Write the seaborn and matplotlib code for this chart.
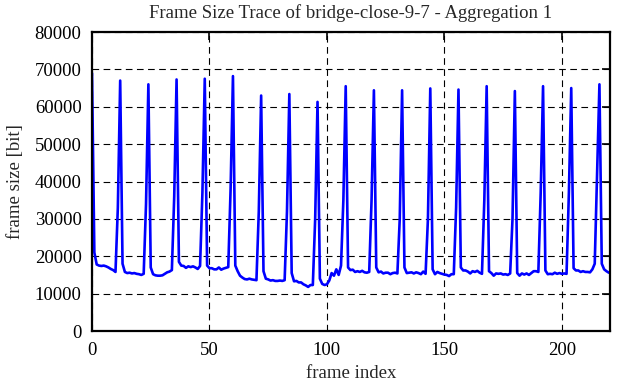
import matplotlib
matplotlib.use("Agg")
import matplotlib.pyplot as plt
import seaborn as sns
import numpy as np
import pandas as pd

title = "Frame Size Trace of bridge-close-9-7 - Aggregation 1"
x_label = "frame index"
y_label = "frame size [bit]"

frame_size = [
    69000, 21000, 17800, 17500, 17400, 17500, 17300, 17000, 16600, 16300,
    15800, 33000, 67000, 18000, 15800, 15500, 15600, 15400, 15500, 15300,
    15200, 15000, 15300, 34000, 66000, 17000, 15200, 14900, 14800, 14800,
    14900, 15300, 15700, 15900, 16300, 36000, 67300, 18500, 17500, 17400,
    16900, 17300, 17100, 17300, 17000, 16600, 17400, 37000, 67500, 17500,
    16800, 16800, 16500, 16500, 17000, 16400, 16700, 16900, 17100, 38000,
    68200, 17500, 16000, 14800, 14300, 13900, 13800, 14000, 13800, 13700,
    13600, 32000, 63000, 16000, 14000, 13800, 13500, 13600, 13400, 13400,
    13500, 13400, 13600, 32000, 63400, 15500, 13300, 13400, 13000, 13000,
    12500, 12200, 11800, 12300, 12300, 30000, 61300, 14000, 12600, 12300,
    12500, 13500, 15500, 14800, 16500, 15000, 17500, 35000, 65500, 17000,
    16300, 16400, 15800, 16000, 15800, 16100, 15700, 15600, 15800, 35000,
    64400, 17000, 15700, 15900, 15400, 15600, 15600, 15200, 15500, 15600,
    15400, 30000, 64400, 17000, 15500, 15600, 15700, 15400, 15700, 15500,
    15200, 15900, 15300, 30000, 64900, 16500, 15200, 15800, 15500, 15300,
    15100, 15000, 14700, 15200, 15200, 33000, 64600, 17000, 16200, 16200,
    15900, 15400, 16000, 15800, 16100, 15600, 15300, 35000, 65500, 16000,
    15500, 14800, 15400, 15300, 15400, 15100, 15200, 15000, 15400, 30000,
    64200, 15500, 14800, 15400, 15100, 15400, 15000, 15500, 16000, 16000,
    15800, 37000, 65500, 16200, 15200, 15300, 15200, 15600, 15300, 15500,
    15300, 15400, 15300, 37000, 65000, 16800, 16200, 16200, 15800, 16000,
    15800, 15800, 15700, 16500, 18000, 42000, 66000, 18000, 16500, 16000,
    15600,
]
frame_index = list(range(len(frame_size)))

x_ticks = [0, 50, 100, 150, 200]
y_ticks = [0, 10000, 20000, 30000, 40000, 50000, 60000, 70000, 80000]

df = pd.DataFrame({"frame": frame_index, "size": frame_size})

sns.set_style("white")
plt.rcParams["font.family"] = ["Liberation Serif", "DejaVu Serif"]

fig = plt.figure(figsize=(6.17, 3.82), dpi=100)
ax = fig.add_axes([92 / 617, 1 - 331 / 382, (610 - 92) / 617, (331 - 32) / 382])

sns.lineplot(data=df, x="frame", y="size", ax=ax, color="#0000ff", linewidth=1.9)

ax.set_xlim(0, 220.5)
ax.set_ylim(0, 80000)
ax.set_xticks(x_ticks)
ax.set_yticks(y_ticks)
ax.set_xticklabels([str(t) for t in x_ticks])
ax.set_yticklabels([str(t) for t in y_ticks])
ax.grid(True, color="black", linestyle=(0, (6, 4)), linewidth=0.8)
ax.set_axisbelow(True)
for s in ax.spines.values():
    s.set_color("black")
    s.set_linewidth(1.6)
    s.set_visible(True)
ax.tick_params(axis="both", direction="in", length=6, width=1.2, colors="black",
               labelsize=13.5, top=True, right=True)
ax.tick_params(axis="x", pad=8)
ax.tick_params(axis="y", pad=7.5)
ax.set_title(title, fontsize=13.5, pad=10)
ax.set_xlabel(x_label, fontsize=13.5, labelpad=4)
ax.set_ylabel(y_label, fontsize=13.5, labelpad=8)

fig.savefig("out.png", dpi=100)
